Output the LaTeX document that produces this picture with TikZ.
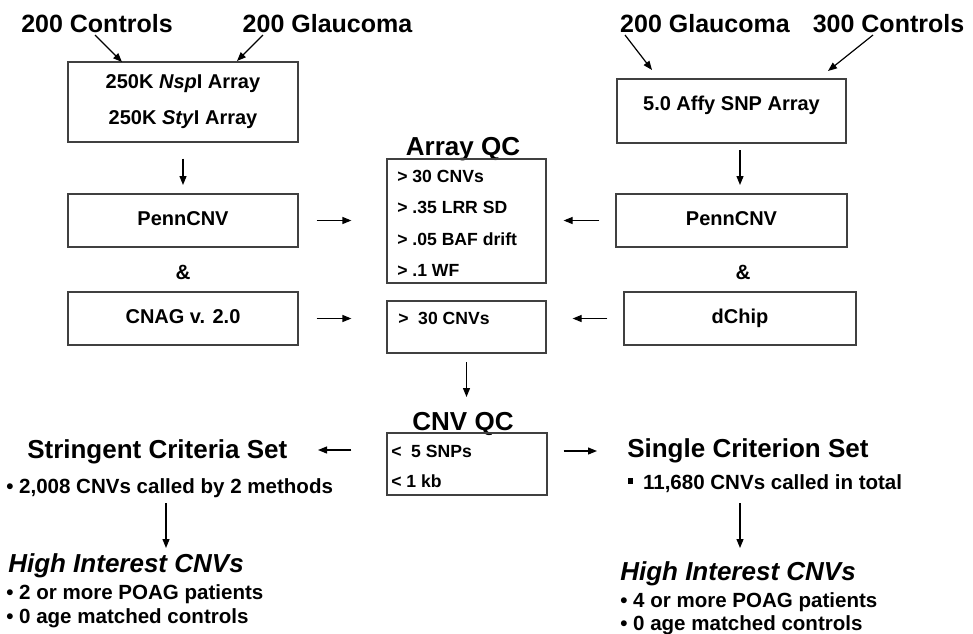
\documentclass[tikz,border=0pt]{standalone}
\usepackage{fontspec}
\setmainfont{Liberation Sans}
\usetikzlibrary{arrows.meta}
\begin{document}
\begin{tikzpicture}[x=0.75pt,y=-0.75pt,
  toplbl/.style={font=\fontsize{18.75}{22}\selectfont\bfseries, inner sep=0, anchor=base},
  ttl/.style={font=\fontsize{19.5}{22}\selectfont\bfseries, inner sep=0},
  bx/.style={draw=black!75, line width=0.9pt, inner sep=0},
  btx/.style={font=\fontsize{15}{18}\selectfont\bfseries, inner sep=0},
  qtx/.style={font=\fontsize{13.2}{15}\selectfont\bfseries, inner sep=0, anchor=base west},
  bul/.style={font=\fontsize{15.4}{18}\selectfont\bfseries, inner sep=0, anchor=base west},
  arr/.style={-{Triangle[length=6.75pt,width=5.25pt]}, line width=0.9pt}]
\useasboundingbox (0,0) rectangle (973,633);

% top labels
\node[toplbl] (c1) at (97,32) {200 Controls};
\node[toplbl] (g1) at (327.5,32) {200 Glaucoma};
\node[toplbl] (g2) at (705,32) {200 Glaucoma};
\node[toplbl] (c2) at (888.5,32) {300 Controls};

% top boxes
\node[bx, minimum width=172.5pt, minimum height=60pt] (box1) at (183,102) {};
\node[btx, anchor=base] (box1a) at (183,88) {250K \textit{Nsp}I Array};
\node[btx, anchor=base] (box1b) at (183,124) {250K \textit{Sty}I Array};
\node[bx, minimum width=171.75pt, minimum height=48pt] (boxR) at (731.5,111) {};
\node[btx, anchor=base] (boxRt) at (731.5,110) {5.0 Affy SNP Array};

% top arrows
\coordinate (a1s) at (95,35);   \coordinate (a1e) at (122,62);
\coordinate (a2s) at (263,35);  \coordinate (a2e) at (237,61);
\coordinate (a3s) at (625,35);  \coordinate (a3e) at (652,70);
\coordinate (a4s) at (873,35);  \coordinate (a4e) at (828,71);
\draw[arr] (a1s) -- (a1e);
\draw[arr] (a2s) -- (a2e);
\draw[arr] (a3s) -- (a3e);
\draw[arr] (a4s) -- (a4e);

% method boxes
\node[bx, btx, minimum width=172.5pt, minimum height=39.75pt, text height=0.72em, text depth=0pt] (pL) at (183,220.5) {PennCNV};
\node[bx, btx, minimum width=172.5pt, minimum height=39.75pt, text height=0.72em, text depth=0pt] (cnag) at (183,318.5) {CNAG v. 2.0};
\node[bx, btx, minimum width=173.25pt, minimum height=39.75pt, text height=0.72em, text depth=0pt] (pR) at (731.5,220.5) {PennCNV};
\node[bx, btx, minimum width=174pt, minimum height=39.75pt, text height=0.72em, text depth=0pt] (dchip) at (740,318.5) {dChip};
\node[ttl, font=\fontsize{15.5}{18}\selectfont\bfseries] (ampL) at (183,272) {\&};
\node[ttl, font=\fontsize{15.5}{18}\selectfont\bfseries] (ampR) at (743,272) {\&};

\coordinate (d1) at (183,185);
\coordinate (d2) at (740,185);
\draw[arr, shorten <=12pt] (box1.south) -- (d1);
\draw[arr, shorten <=5pt] (boxR.south -| d2) -- (d2);

% Array QC
\node[ttl, anchor=base] (aqct) at (463,155) {Array QC};
\node[bx, minimum width=119.25pt, minimum height=93pt] (qc1) at (466.5,221) {};
\node[qtx] (q1) at (397,182) {> 30 CNVs};
\node[qtx] (q2) at (397,213) {> .35 LRR SD};
\node[qtx] (q3) at (397,245) {> .05 BAF drift};
\node[qtx] (q4) at (397,276) {> .1 WF};
\node[bx, minimum width=119.25pt, minimum height=39pt] (box30) at (466.5,327) {};
\node[qtx] (q5) at (398,324) {>\hspace{0.55em}30 CNVs};

\draw[arr, shorten <=13.5pt, shorten >=26.25pt] (pL.east) -- (qc1.west |- pL.east);
\draw[arr, shorten <=13.5pt, shorten >=26.25pt] (cnag.east) -- (box30.west |- cnag.east);
\draw[arr, shorten <=12pt, shorten >=12.75pt] (pR.west) -- (qc1.east |- pR.west);
\draw[arr, shorten <=12pt, shorten >=19.5pt] (dchip.west) -- (box30.east |- dchip.west);

\coordinate (d3) at (466.5,397);
\draw[arr, shorten <=6.5pt] (box30.south) -- (d3);

% CNV QC
\node[ttl, anchor=base] (cnvt) at (463,430) {CNV QC};
\node[bx, minimum width=120pt, minimum height=46.5pt] (cnvbox) at (467,464) {};
\node[qtx] (r1) at (391,457) {<\hspace{0.55em}5 SNPs};
\node[qtx] (r2) at (391,487) {< 1 kb};

\coordinate (sL) at (318,450);
\coordinate (sR) at (597,451);
\draw[arr, shorten <=26.25pt] (cnvbox.west |- sL) -- (sL);
\draw[arr, shorten <=12pt] (cnvbox.east |- sR) -- (sR);

% left result
\node[ttl, anchor=base west] (strg) at (27,458) {Stringent Criteria Set};
\node[bul] (strgb) at (6,493) {• 2,008 CNVs called by 2 methods};
\coordinate (h1a) at (166,503);
\coordinate (h1b) at (166,548);
\draw[arr] (h1a) -- (h1b);
\node[ttl, anchor=base west, font=\fontsize{19.5}{22}\selectfont\bfseries\itshape] (hiL) at (8,572) {High Interest CNVs};
\node[bul] (hiL1) at (6,599) {• 2 or more POAG patients};
\node[bul] (hiL2) at (6,623) {• 0 age matched controls};

% right result
\node[ttl, anchor=base west] (sing) at (627,457) {Single Criterion Set};
\node[bul] (singb) at (628,489) {\rule[0.25em]{0.22em}{0.28em}\hspace{0.5em}11,680 CNVs called in total};
\coordinate (h2a) at (740,503);
\coordinate (h2b) at (740,548);
\draw[arr] (h2a) -- (h2b);
\node[ttl, anchor=base west, font=\fontsize{19.5}{22}\selectfont\bfseries\itshape] (hiR) at (620,580) {High Interest CNVs};
\node[bul] (hiR1) at (620,607) {• 4 or more POAG patients};
\node[bul] (hiR2) at (620,630) {• 0 age matched controls};
\end{tikzpicture}
\end{document}
